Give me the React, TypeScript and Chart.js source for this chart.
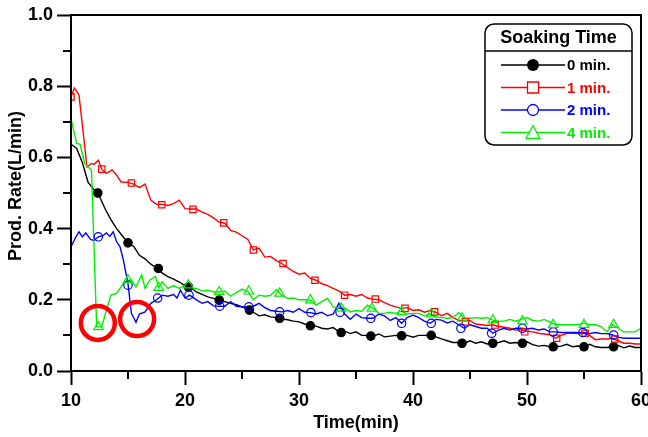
import React, { useEffect, useRef } from "react";
import { Chart, registerables } from "chart.js";

Chart.register(...registerables);

// ---------- data ----------
const seriesLabels = ["0 min.", "1 min.", "2 min.", "4 min."];
const seriesColors = ["#000000", "#ff0000", "#0000ff", "#00ee00"];
const seriesMarkers = ["circle", "rect", "circle", "triangle"];
const legendTitle = "Soaking Time";
const xTitle = "Time(min)";
const yTitle = "Prod. Rate(L/min)";

// 0 min
const t0 = [10, 10.5, 11, 11.5, 12, 12.5, 13, 13.5, 14, 14.5, 15, 15.5, 16, 16.5, 17, 17.5, 18, 18.5, 19, 19.5, 20, 20.5, 21, 21.5, 22, 22.5, 23, 23.5, 24, 24.5, 25, 25.5, 26, 26.5, 27, 27.5, 28, 28.5, 29, 29.5, 30, 30.5, 31, 31.5, 32, 32.5, 33, 33.5, 34, 34.5, 35, 35.5, 36, 36.5, 37, 37.5, 38, 38.5, 39, 39.5, 40, 40.5, 41, 41.5, 42, 42.5, 43, 43.5, 44, 44.5, 45, 45.5, 46, 46.5, 47, 47.5, 48, 48.5, 49, 49.5, 50, 50.5, 51, 51.5, 52, 52.5, 53, 53.5, 54, 54.5, 55, 55.5, 56, 56.5, 57, 57.5, 58, 58.5, 59, 59.5, 60];
const v0 = [0.637, 0.625, 0.585, 0.53, 0.51, 0.49, 0.455, 0.425, 0.4, 0.38, 0.36, 0.35, 0.325, 0.315, 0.3, 0.29, 0.275, 0.265, 0.258, 0.25, 0.24, 0.234, 0.222, 0.215, 0.208, 0.204, 0.198, 0.195, 0.19, 0.186, 0.18, 0.173, 0.165, 0.155, 0.158, 0.152, 0.15, 0.146, 0.144, 0.14, 0.138, 0.132, 0.128, 0.126, 0.12, 0.118, 0.122, 0.11, 0.112, 0.105, 0.11, 0.1, 0.1, 0.098, 0.104, 0.096, 0.098, 0.1, 0.099, 0.1, 0.095, 0.1, 0.1, 0.1, 0.096, 0.09, 0.085, 0.08, 0.08, 0.078, 0.085, 0.078, 0.082, 0.076, 0.078, 0.08, 0.085, 0.078, 0.08, 0.078, 0.082, 0.074, 0.07, 0.072, 0.068, 0.068, 0.07, 0.075, 0.068, 0.07, 0.068, 0.075, 0.068, 0.066, 0.066, 0.068, 0.072, 0.065, 0.07, 0.066, 0.066];
const m0x = [12.35, 15.0, 17.66, 20.3, 23.0, 25.65, 28.3, 31.0, 33.7, 36.3, 39.0, 41.6, 44.3, 47.0, 49.6, 52.3, 55.0, 57.6];
const m0y = [0.5, 0.36, 0.288, 0.236, 0.199, 0.171, 0.148, 0.127, 0.108, 0.098, 0.099, 0.1, 0.078, 0.078, 0.078, 0.068, 0.068, 0.068];

// 1 min
const t1 = [10, 10.3, 10.7, 11, 11.4, 11.8, 12, 12.4, 12.7, 13.1, 13.6, 14, 14.4, 15, 15.5, 16, 16.5, 17, 17.5, 18, 18.5, 19, 19.5, 20, 20.5, 21, 21.5, 22, 22.5, 23, 23.5, 24, 24.5, 25, 25.5, 26, 26.5, 27, 27.5, 28, 28.5, 29, 29.5, 30, 30.5, 31, 31.5, 32, 32.5, 33, 33.5, 34, 34.5, 35, 35.5, 36, 36.5, 37, 37.5, 38, 38.5, 39, 39.5, 40, 40.5, 41, 41.5, 42, 42.5, 43, 43.5, 44, 44.5, 45, 45.5, 46, 46.5, 47, 47.5, 48, 48.5, 49, 49.5, 50, 50.5, 51, 51.5, 52, 52.5, 53, 53.5, 54, 54.5, 55, 55.5, 56, 56.5, 57, 57.5, 58, 58.5, 59, 59.5, 60];
const v1 = [0.77, 0.795, 0.775, 0.69, 0.573, 0.583, 0.58, 0.592, 0.567, 0.555, 0.565, 0.55, 0.531, 0.53, 0.525, 0.515, 0.525, 0.48, 0.468, 0.468, 0.465, 0.47, 0.48, 0.456, 0.455, 0.455, 0.446, 0.44, 0.43, 0.418, 0.415, 0.395, 0.39, 0.38, 0.37, 0.34, 0.345, 0.32, 0.322, 0.31, 0.302, 0.29, 0.28, 0.272, 0.275, 0.26, 0.255, 0.245, 0.24, 0.232, 0.225, 0.213, 0.215, 0.21, 0.215, 0.205, 0.202, 0.2, 0.192, 0.185, 0.18, 0.176, 0.178, 0.17, 0.172, 0.165, 0.17, 0.165, 0.155, 0.162, 0.15, 0.143, 0.14, 0.142, 0.132, 0.13, 0.128, 0.13, 0.125, 0.123, 0.12, 0.115, 0.115, 0.112, 0.11, 0.106, 0.104, 0.102, 0.092, 0.1, 0.106, 0.106, 0.105, 0.106, 0.1, 0.088, 0.09, 0.09, 0.092, 0.085, 0.078, 0.078, 0.076, 0.076];
const m1x = [10, 12.7, 15.3, 17.96, 20.7, 23.4, 26.0, 28.6, 31.4, 34.0, 36.7, 39.3, 41.9, 44.6, 47.2, 49.8, 52.6, 55.1, 57.7];
const m1y = [0.77, 0.567, 0.528, 0.467, 0.454, 0.416, 0.34, 0.302, 0.255, 0.213, 0.202, 0.176, 0.166, 0.138, 0.129, 0.11, 0.092, 0.106, 0.09];

// 2 min
const t2 = [10, 10.4, 10.7, 11, 11.3, 11.7, 12, 12.4, 12.8, 13.1, 13.4, 13.7, 14, 14.3, 14.6, 15, 15.3, 15.7, 16, 16.5, 17, 17.5, 18, 18.5, 19, 19.3, 19.6, 20, 20.4, 21, 21.5, 22, 22.5, 23, 23.5, 24, 24.5, 25, 25.5, 26, 26.5, 27, 27.5, 28, 28.5, 29, 29.5, 30, 30.5, 31, 31.5, 32, 32.5, 33, 33.5, 34, 34.5, 35, 35.5, 36, 36.5, 37, 37.5, 38, 38.5, 39, 39.5, 40, 40.5, 41, 41.5, 42, 42.5, 43, 43.5, 44, 44.5, 45, 45.5, 46, 46.5, 47, 47.5, 48, 48.5, 49, 49.5, 50, 50.5, 51, 51.5, 52, 52.5, 53, 53.5, 54, 54.5, 55, 55.5, 56, 56.5, 57, 57.5, 58, 58.5, 59, 59.5, 60];
const v2 = [0.349, 0.375, 0.391, 0.377, 0.388, 0.37, 0.366, 0.377, 0.38, 0.388, 0.378, 0.391, 0.363, 0.349, 0.311, 0.245, 0.162, 0.137, 0.16, 0.166, 0.19, 0.2, 0.213, 0.21, 0.215, 0.205, 0.227, 0.205, 0.213, 0.2, 0.19, 0.195, 0.183, 0.182, 0.182, 0.195, 0.182, 0.18, 0.18, 0.182, 0.19, 0.178, 0.17, 0.168, 0.166, 0.17, 0.165, 0.175, 0.165, 0.164, 0.16, 0.165, 0.155, 0.16, 0.19, 0.16, 0.145, 0.16, 0.15, 0.148, 0.148, 0.16, 0.155, 0.142, 0.15, 0.134, 0.15, 0.157, 0.15, 0.14, 0.134, 0.145, 0.143, 0.135, 0.14, 0.13, 0.12, 0.13, 0.125, 0.12, 0.12, 0.106, 0.115, 0.12, 0.115, 0.12, 0.12, 0.118, 0.12, 0.115, 0.118, 0.11, 0.11, 0.108, 0.108, 0.108, 0.108, 0.108, 0.105, 0.108, 0.105, 0.105, 0.101, 0.095, 0.092, 0.092, 0.092, 0.092];
const m2x = [12.4, 15.0, 17.6, 20.35, 23.05, 25.6, 28.3, 31.05, 33.6, 36.3, 39.0, 41.6, 44.2, 46.9, 49.6, 52.3, 54.9, 57.6];
const m2y = [0.377, 0.241, 0.205, 0.213, 0.182, 0.18, 0.166, 0.164, 0.165, 0.148, 0.134, 0.134, 0.12, 0.106, 0.12, 0.11, 0.108, 0.101];

// 4 min
const t4 = [10, 10.5, 10.8, 11.2, 11.8, 12.25, 12.7, 13.1, 13.5, 14, 14.6, 15, 15.3, 15.7, 16.2, 16.5, 16.9, 17.4, 17.7, 18, 18.5, 19, 19.5, 20, 20.5, 21, 21.5, 22, 22.5, 23, 23.5, 24, 24.5, 25, 25.5, 26, 26.5, 27, 27.5, 28, 28.5, 29, 29.5, 30, 30.5, 31, 31.5, 32, 32.5, 33, 33.5, 34, 34.5, 35, 35.5, 36, 36.5, 37, 37.5, 38, 38.5, 39, 39.5, 40, 40.5, 41, 41.5, 42, 42.5, 43, 43.5, 44, 44.5, 45, 45.5, 46, 46.5, 47, 47.5, 48, 48.5, 49, 49.5, 50, 50.5, 51, 51.5, 52, 52.5, 53, 53.5, 54, 54.5, 55, 55.5, 56, 56.5, 57, 57.5, 58, 58.5, 59, 59.5, 60];
const v4 = [0.709, 0.639, 0.637, 0.583, 0.564, 0.124, 0.124, 0.17, 0.213, 0.218, 0.246, 0.255, 0.255, 0.236, 0.27, 0.232, 0.255, 0.265, 0.234, 0.25, 0.232, 0.24, 0.232, 0.241, 0.23, 0.232, 0.225, 0.227, 0.222, 0.222, 0.225, 0.21, 0.22, 0.23, 0.224, 0.2, 0.213, 0.21, 0.212, 0.228, 0.212, 0.204, 0.205, 0.2, 0.2, 0.199, 0.185, 0.195, 0.204, 0.18, 0.176, 0.178, 0.166, 0.17, 0.168, 0.185, 0.176, 0.162, 0.162, 0.165, 0.162, 0.168, 0.16, 0.162, 0.162, 0.155, 0.16, 0.152, 0.15, 0.148, 0.15, 0.164, 0.148, 0.148, 0.15, 0.148, 0.15, 0.143, 0.14, 0.14, 0.145, 0.14, 0.145, 0.15, 0.142, 0.14, 0.145, 0.138, 0.13, 0.13, 0.13, 0.13, 0.13, 0.135, 0.13, 0.13, 0.125, 0.11, 0.13, 0.12, 0.11, 0.11, 0.11, 0.12];
const m4x = [12.4, 15.0, 17.7, 20.3, 23.0, 25.6, 28.3, 31.0, 33.7, 36.4, 39.0, 41.6, 44.3, 47.0, 49.6, 52.3, 55.0, 57.6];
const m4y = [0.124, 0.255, 0.234, 0.241, 0.222, 0.224, 0.218, 0.199, 0.176, 0.176, 0.166, 0.16, 0.148, 0.143, 0.14, 0.13, 0.13, 0.13];

// highlighted dips (red circles)
const circleX = [12.35, 15.8];
const circleY = [0.135, 0.146];

const xMin = 10, xMax = 60, xMajor = 10, xMinor = 5;
const yMin = 0, yMax = 1.0, yMajor = 0.2, yMinor = 0.1;

const FONT = "'Liberation Sans', Arial, Helvetica, sans-serif";

const lineTimes = [t0, t1, t2, t4];
const lineValues = [v0, v1, v2, v4];
const markerTimes = [m0x, m1x, m2x, m4x];
const markerValues = [m0y, m1y, m2y, m4y];

const zip = (xs: number[], ys: number[]) => xs.map((x, i) => ({ x, y: ys[i] }));

const decorPlugin = {
  id: "decor",
  afterDraw(chart: any) {
    const { ctx, chartArea, scales } = chart;
    const xs = scales.x;
    const ys = scales.y;
    ctx.save();
    // frame
    ctx.strokeStyle = "#000";
    ctx.lineWidth = 2;
    ctx.strokeRect(chartArea.left, chartArea.top, chartArea.right - chartArea.left, chartArea.bottom - chartArea.top);
    // minor ticks
    ctx.lineWidth = 2;
    ctx.beginPath();
    for (let v = xMin + xMinor; v < xMax; v += xMajor) {
      const px = Math.round(xs.getPixelForValue(v));
      ctx.moveTo(px, chartArea.bottom);
      ctx.lineTo(px, chartArea.bottom + 8);
    }
    for (let v = yMin + yMinor; v < yMax; v += yMajor) {
      const py = Math.round(ys.getPixelForValue(v));
      ctx.moveTo(chartArea.left, py);
      ctx.lineTo(chartArea.left - 8, py);
    }
    ctx.stroke();

    // y title
    ctx.fillStyle = "#000";
    ctx.font = `bold 18px ${FONT}`;
    ctx.textAlign = "center";
    ctx.textBaseline = "middle";
    ctx.save();
    ctx.translate(16, (chartArea.top + chartArea.bottom) / 2 - 7);
    ctx.rotate(-Math.PI / 2);
    ctx.fillText(yTitle, 0, 0);
    ctx.restore();

    // legend box
    const bx = chartArea.right - 156;
    const by = chartArea.top + 9;
    const bw = 147;
    const bh = 121;
    const r = 9;
    ctx.fillStyle = "#fff";
    ctx.strokeStyle = "#000";
    ctx.lineWidth = 1.5;
    ctx.beginPath();
    ctx.moveTo(bx + r, by);
    ctx.lineTo(bx + bw - r, by);
    ctx.arcTo(bx + bw, by, bx + bw, by + r, r);
    ctx.lineTo(bx + bw, by + bh - r);
    ctx.arcTo(bx + bw, by + bh, bx + bw - r, by + bh, r);
    ctx.lineTo(bx + r, by + bh);
    ctx.arcTo(bx, by + bh, bx, by + bh - r, r);
    ctx.lineTo(bx, by + r);
    ctx.arcTo(bx, by, bx + r, by, r);
    ctx.closePath();
    ctx.fill();
    ctx.stroke();
    ctx.beginPath();
    ctx.moveTo(bx, by + 27);
    ctx.lineTo(bx + bw, by + 27);
    ctx.stroke();
    ctx.fillStyle = "#000";
    ctx.font = `bold 18px ${FONT}`;
    ctx.textAlign = "center";
    ctx.fillText(legendTitle, bx + bw / 2, by + 14);

    ctx.font = `bold 15px ${FONT}`;
    ctx.textAlign = "left";
    for (let i = 0; i < seriesLabels.length; i++) {
      const cy = by + 41 + i * 22.5;
      const col = seriesColors[i];
      ctx.strokeStyle = col;
      ctx.lineWidth = 1.5;
      ctx.beginPath();
      ctx.moveTo(bx + 16, cy);
      ctx.lineTo(bx + 80, cy);
      ctx.stroke();
      const mx = bx + 48;
      ctx.lineWidth = 1.3;
      ctx.fillStyle = "#fff";
      ctx.beginPath();
      if (seriesMarkers[i] === "circle" && i === 0) {
        ctx.fillStyle = col;
        ctx.arc(mx, cy, 6, 0, Math.PI * 2);
        ctx.fill();
      } else if (seriesMarkers[i] === "circle") {
        ctx.arc(mx, cy, 5.5, 0, Math.PI * 2);
        ctx.fill();
        ctx.stroke();
      } else if (seriesMarkers[i] === "rect") {
        ctx.rect(mx - 5.5, cy - 5.5, 11, 11);
        ctx.fill();
        ctx.stroke();
      } else {
        ctx.moveTo(mx, cy - 7);
        ctx.lineTo(mx + 7, cy + 6);
        ctx.lineTo(mx - 7, cy + 6);
        ctx.closePath();
        ctx.fill();
        ctx.stroke();
      }
      ctx.fillStyle = col;
      ctx.fillText(seriesLabels[i], bx + 82, cy + 1);
    }
    ctx.restore();
  },
};

export default function App() {
  const ref = useRef<HTMLCanvasElement | null>(null);
  useEffect(() => {
    if (!ref.current) return;
    const datasets: any[] = [];
    for (let i = 0; i < 4; i++) {
      datasets.push({
        type: "line",
        label: seriesLabels[i],
        data: zip(lineTimes[i], lineValues[i]),
        borderColor: seriesColors[i],
        borderWidth: 1.4,
        pointRadius: 0,
        tension: 0,
        fill: false,
        order: 10 - i,
      });
    }
    for (let i = 0; i < 4; i++) {
      const filled = i === 0;
      datasets.push({
        type: "scatter",
        label: seriesLabels[i] + " markers",
        data: zip(markerTimes[i], markerValues[i]),
        pointStyle: seriesMarkers[i],
        pointRadius: seriesMarkers[i] === "triangle" ? 5.5 : seriesMarkers[i] === "rect" ? 4.5 : 4.2,
        pointBorderWidth: 1.2,
        borderColor: seriesColors[i],
        backgroundColor: filled ? seriesColors[i] : "rgba(0,0,0,0)",
        showLine: false,
        order: 5 - i,
      });
    }
    datasets.push({
      type: "scatter",
      label: "highlight",
      data: zip(circleX, circleY),
      pointStyle: "circle",
      pointRadius: 17,
      pointBorderWidth: 4.5,
      borderColor: "#ff0000",
      backgroundColor: "rgba(0,0,0,0)",
      showLine: false,
      order: 0,
    });

    const chart = new Chart(ref.current, {
      type: "line",
      data: { datasets },
      options: {
        animation: false,
        responsive: false,
        maintainAspectRatio: false,
        events: [],
        layout: { autoPadding: false, padding: { top: 15, right: 7, left: 0, bottom: 0 } },
        plugins: { legend: { display: false }, tooltip: { enabled: false } },
        scales: {
          x: {
            type: "linear",
            min: xMin,
            max: xMax,
            afterFit: (s: any) => { s.height = 66; s.paddingLeft = 0; s.paddingRight = 0; },
            ticks: {
              stepSize: xMajor,
              color: "#000",
              font: { family: FONT, size: 18, weight: "bold" },
              padding: 5,
              maxRotation: 0,
            },
            grid: { drawOnChartArea: false, drawTicks: true, tickLength: 14, tickColor: "#000", tickWidth: 2, color: "#000" },
            border: { display: true, color: "#000", width: 2 },
            title: {
              display: true,
              text: xTitle,
              color: "#000",
              font: { family: FONT, size: 18, weight: "bold" },
              padding: { top: 0, bottom: 3 },
            },
          },
          y: {
            type: "linear",
            min: yMin,
            max: yMax,
            afterFit: (s: any) => { s.width = 71; s.paddingTop = 0; s.paddingBottom = 0; },
            ticks: {
              stepSize: yMajor,
              color: "#000",
              font: { family: FONT, size: 18, weight: "bold" },
              padding: 4,
              callback: (v: any) => Number(v).toFixed(1),
            },
            grid: { drawOnChartArea: false, drawTicks: true, tickLength: 14, tickColor: "#000", tickWidth: 2, color: "#000" },
            border: { display: true, color: "#000", width: 2 },
          },
        },
      },
      plugins: [decorPlugin],
    } as any);
    return () => chart.destroy();
  }, []);
  return (
    <div style={{ position: "fixed", left: 0, top: 0, width: 648, height: 437, background: "#fff" }}>
      <canvas ref={ref} width={648} height={437} style={{ width: 648, height: 437 }} />
    </div>
  );
}
